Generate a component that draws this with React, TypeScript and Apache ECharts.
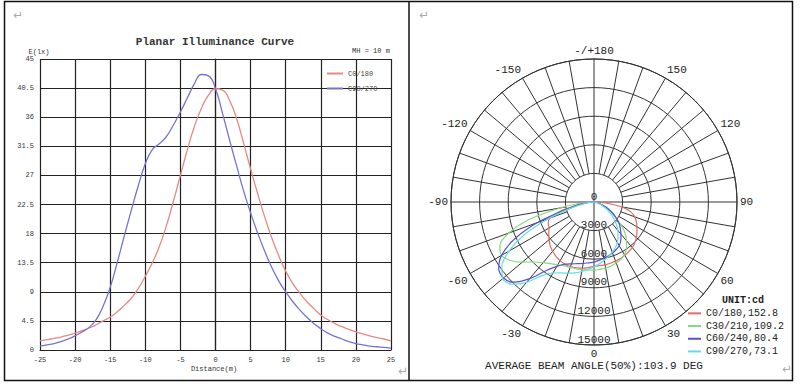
import React, { useEffect, useRef } from 'react';
import * as echarts from 'echarts';

// ---------- Planar illuminance curve (left panel) ----------
const distance = [
  -25, -24, -23, -22, -21, -20, -19, -18, -17, -16, -15, -14, -13, -12, -11, -10, -9, -8, -7, -6, -5, -4, -3, -2, -1,
  0, 1, 2, 3, 4, 5, 6, 7, 8, 9, 10, 11, 12, 13, 14, 15, 16, 17, 18, 19, 20, 21, 22, 23, 24, 25,
];
const c0_180Lux = [
  1.4, 1.6, 1.8, 2.0, 2.3, 2.6, 3.0, 3.4, 3.9, 4.5, 5.1, 5.9, 6.9, 8.0, 9.5, 11.4, 13.5, 16.0, 19.2, 23.0, 27.0, 31.0, 34.6, 37.4, 39.4,
  40.4, 40.2, 38.6, 35.8, 32.0, 28.0, 24.2, 20.6, 17.4, 14.6, 12.2, 10.3, 8.8, 7.5, 6.4, 5.4, 4.7, 4.1, 3.6, 3.2, 2.8, 2.5, 2.2, 1.9, 1.7, 1.4,
];
const c90_270Lux = [
  0.6, 0.8, 1.0, 1.3, 1.7, 2.2, 2.8, 3.5, 4.7, 6.8, 9.7, 13.5, 17.6, 21.6, 25.4, 28.8, 31.0, 31.9, 33.0, 34.8, 36.8, 39.0, 41.2, 42.6, 42.4,
  40.4, 36.6, 32.5, 28.5, 24.6, 21.2, 18.1, 15.3, 12.8, 10.7, 9.0, 7.5, 6.2, 5.1, 4.1, 3.3, 2.6, 2.1, 1.7, 1.3, 1.0, 0.8, 0.6, 0.5, 0.4, 0.3,
];
const lineNames = ['C0/180', 'C90/270'];

// ---------- Polar intensity diagram (right panel) ----------
const gamma = [
  -90, -85, -80, -75, -70, -65, -60, -55, -50, -45, -40, -35, -30, -25, -20, -15, -10, -5,
  0, 5, 10, 15, 20, 25, 30, 35, 40, 45, 50, 55, 60, 65, 70, 75, 80, 85, 90,
];
const c0Cd = [
  0, 600, 1800, 3600, 4900, 5300, 5450, 5800, 6150, 6500, 6750, 6950, 7100, 7200, 7200, 7150, 7050, 6900,
  6750, 6700, 6700, 6650, 6600, 6550, 6450, 6350, 6250, 6050, 5800, 5500, 5200, 4900, 4550, 4000, 3000, 1200, 0,
];
const c30Cd = [
  0, 1500, 3600, 7000, 9500, 10900, 11200, 10700, 9800, 8900, 8300, 7900, 7600, 7400, 7300, 7250, 7200, 7150,
  7150, 7100, 7050, 6950, 6800, 6650, 6350, 5950, 5300, 4600, 3600, 2700, 2000, 1400, 900, 600, 300, 100, 0,
];
const c60Cd = [
  0, 700, 1600, 3000, 6300, 9200, 11200, 12200, 12400, 11900, 10500, 8800, 7800, 7200, 6900, 6700, 6550, 6400,
  6300, 6150, 6000, 5850, 5700, 5500, 5300, 4900, 4400, 3900, 3400, 2800, 2200, 1600, 1000, 600, 300, 100, 0,
];
const c90Cd = [
  0, 500, 1200, 2500, 5000, 8000, 10300, 11800, 12500, 12200, 11000, 9400, 8600, 8200, 7950, 7700, 7400, 7100,
  6800, 6500, 6200, 5900, 5600, 5300, 4900, 4400, 3900, 3300, 2700, 2100, 1600, 1100, 700, 400, 200, 80, 0,
];
const polarNames = ['C0/180,152.8', 'C30/210,109.2', 'C60/240,80.4', 'C90/270,73.1'];
const spokeAngles = [
  0, 10, 20, 30, 40, 50, 60, 70, 80, 90, 100, 110, 120, 130, 140, 150, 160, 170,
  180, 190, 200, 210, 220, 230, 240, 250, 260, 270, 280, 290, 300, 310, 320, 330, 340, 350,
];
const ringStep = 3000;
const ringMax = 15000;

const mono = '"Liberation Mono", "DejaVu Sans Mono", monospace';

export default function App() {
  const ref = useRef<HTMLDivElement>(null);

  useEffect(() => {
    const chart = echarts.init(ref.current as HTMLDivElement, null, { renderer: 'svg' });

    const polarColors = ['#e36a66', '#86d97f', '#5a50cc', '#63dde3'];
    const polarData = [c0Cd, c30Cd, c60Cd, c90Cd];

    const option: any = {
      animation: false,
      backgroundColor: '#ffffff',
      grid: { left: 40, top: 59, width: 351, height: 291, outerBoundsMode: 'none' },
      xAxis: {
        type: 'value', min: -25, max: 25, interval: 5,
        axisLine: { show: true, onZero: false, lineStyle: { color: '#222', width: 1.2 } },
        axisTick: { show: false },
        splitLine: { show: true, lineStyle: { color: '#222', width: 1.2 } },
        axisLabel: { color: '#333', fontFamily: mono, fontSize: 7, margin: 6 },
      },
      yAxis: {
        type: 'value', min: 0, max: 45, interval: 4.5,
        axisLine: { show: true, lineStyle: { color: '#222', width: 1.2 } },
        axisTick: { show: false },
        splitLine: { show: true, lineStyle: { color: '#222', width: 1.2 } },
        axisLabel: { color: '#333', fontFamily: mono, fontSize: 7, margin: 6 },
      },
      polar: { center: [594, 202], radius: 143 },
      angleAxis: {
        type: 'value', min: 0, max: 360, interval: 30, startAngle: -90, clockwise: false,
        axisLine: { show: true, lineStyle: { color: '#333', width: 1 } },
        axisTick: { show: false },
        splitLine: { show: false },
        axisLabel: {
          margin: 3, color: '#222', fontFamily: mono, fontSize: 11,
          formatter: (v: number) => (v === 180 ? '-/+180' : v > 180 ? String(v - 360) : String(v)),
        },
      },
      radiusAxis: {
        type: 'value', min: 0, max: ringMax, interval: ringStep,
        axisLine: { show: false },
        axisTick: { show: false },
        splitLine: { show: true, lineStyle: { color: '#333', width: 1 } },
        axisLabel: {
          margin: 0, align: 'center', verticalAlign: 'bottom', color: '#222', fontFamily: mono, fontSize: 11,
          formatter: (v: number) => String(v),
        },
      },
      legend: [
        {
          data: lineNames, orient: 'vertical', left: 327, top: 66, icon: 'rect',
          itemWidth: 16, itemHeight: 2, itemGap: 0, padding: 0, selectedMode: false,
          textStyle: { fontFamily: mono, fontSize: 7, color: '#444', lineHeight: 15 },
        },
        {
          data: polarNames, orient: 'vertical', left: 688, top: 307, icon: 'rect',
          itemWidth: 13, itemHeight: 2, itemGap: 0, padding: 0, selectedMode: false,
          textStyle: { fontFamily: mono, fontSize: 10, color: '#222', lineHeight: 12.7 },
        },
      ],
      series: [
        {
          type: 'line', name: lineNames[0], smooth: true, showSymbol: false, symbol: 'none',
          lineStyle: { color: '#e58b84', width: 1.3 }, itemStyle: { color: '#e58b84' },
          data: distance.map((d, i) => [d, c0_180Lux[i]]),
        },
        {
          type: 'line', name: lineNames[1], smooth: true, showSymbol: false, symbol: 'none',
          lineStyle: { color: '#7474d4', width: 1.3 }, itemStyle: { color: '#7474d4' },
          data: distance.map((d, i) => [d, c90_270Lux[i]]),
        },
        {
          type: 'custom', coordinateSystem: 'polar', silent: true, z: 1,
          data: spokeAngles.map((a) => [ringMax, a]),
          renderItem: (_params: any, api: any) => {
            const a = api.value(1) as number;
            const inner = a % 90 === 0 ? 0 : ringStep;
            const p0 = api.coord([inner, a]);
            const p1 = api.coord([ringMax, a]);
            return {
              type: 'line',
              shape: { x1: p0[0], y1: p0[1], x2: p1[0], y2: p1[1] },
              style: { stroke: '#333', lineWidth: 1 },
            };
          },
        },
        ...polarData.map((vals, i) => ({
          type: 'line', name: polarNames[i], coordinateSystem: 'polar', smooth: 0.3,
          showSymbol: false, symbol: 'none', z: 3,
          lineStyle: { color: polarColors[i], width: 1.2 }, itemStyle: { color: polarColors[i] },
          data: gamma.map((g, k) => [vals[k], g < 0 ? g + 360 : g]),
        })),
      ],
      graphic: [
        { type: 'rect', silent: true, shape: { x: 4.5, y: 1.5, width: 788, height: 379 }, style: { fill: 'none', stroke: '#111', lineWidth: 1.5 } },
        { type: 'line', silent: true, shape: { x1: 409, y1: 1.5, x2: 409, y2: 380.5 }, style: { stroke: '#111', lineWidth: 1.5 } },
        { type: 'text', x: 215, y: 42, style: { text: 'Planar Illuminance Curve', font: `bold 11px ${mono}`, fill: '#333', align: 'center', verticalAlign: 'middle' } },
        { type: 'text', x: 39, y: 52, style: { text: 'E(lx)', font: `7px ${mono}`, fill: '#333', align: 'center', verticalAlign: 'middle' } },
        { type: 'text', x: 371, y: 51, style: { text: 'MH = 10 m', font: `7px ${mono}`, fill: '#333', align: 'center', verticalAlign: 'middle' } },
        { type: 'text', x: 214, y: 369, style: { text: 'Distance(m)', font: `7px ${mono}`, fill: '#333', align: 'center', verticalAlign: 'middle' } },
        { type: 'text', x: 743, y: 300, style: { text: 'UNIT:cd', font: `bold 10px ${mono}`, fill: '#222', align: 'center', verticalAlign: 'middle' } },
        { type: 'text', x: 594, y: 366, style: { text: 'AVERAGE BEAM ANGLE(50%):103.9 DEG', font: `11px ${mono}`, fill: '#222', align: 'center', verticalAlign: 'middle' } },
        { type: 'text', x: 18, y: 15, style: { text: '↵', font: '12px "DejaVu Sans"', fill: '#aaa', align: 'center', verticalAlign: 'middle' } },
        { type: 'text', x: 424, y: 15, style: { text: '↵', font: '12px "DejaVu Sans"', fill: '#aaa', align: 'center', verticalAlign: 'middle' } },
        { type: 'text', x: 403, y: 371, style: { text: '↵', font: '12px "DejaVu Sans"', fill: '#aaa', align: 'center', verticalAlign: 'middle' } },
        { type: 'text', x: 787, y: 369, style: { text: '↵', font: '12px "DejaVu Sans"', fill: '#aaa', align: 'center', verticalAlign: 'middle' } },
      ],
    };

    chart.setOption(option);
    return () => chart.dispose();
  }, []);

  return <div ref={ref} style={{ position: 'fixed', left: 0, top: 0, width: 800, height: 384 }} />;
}
